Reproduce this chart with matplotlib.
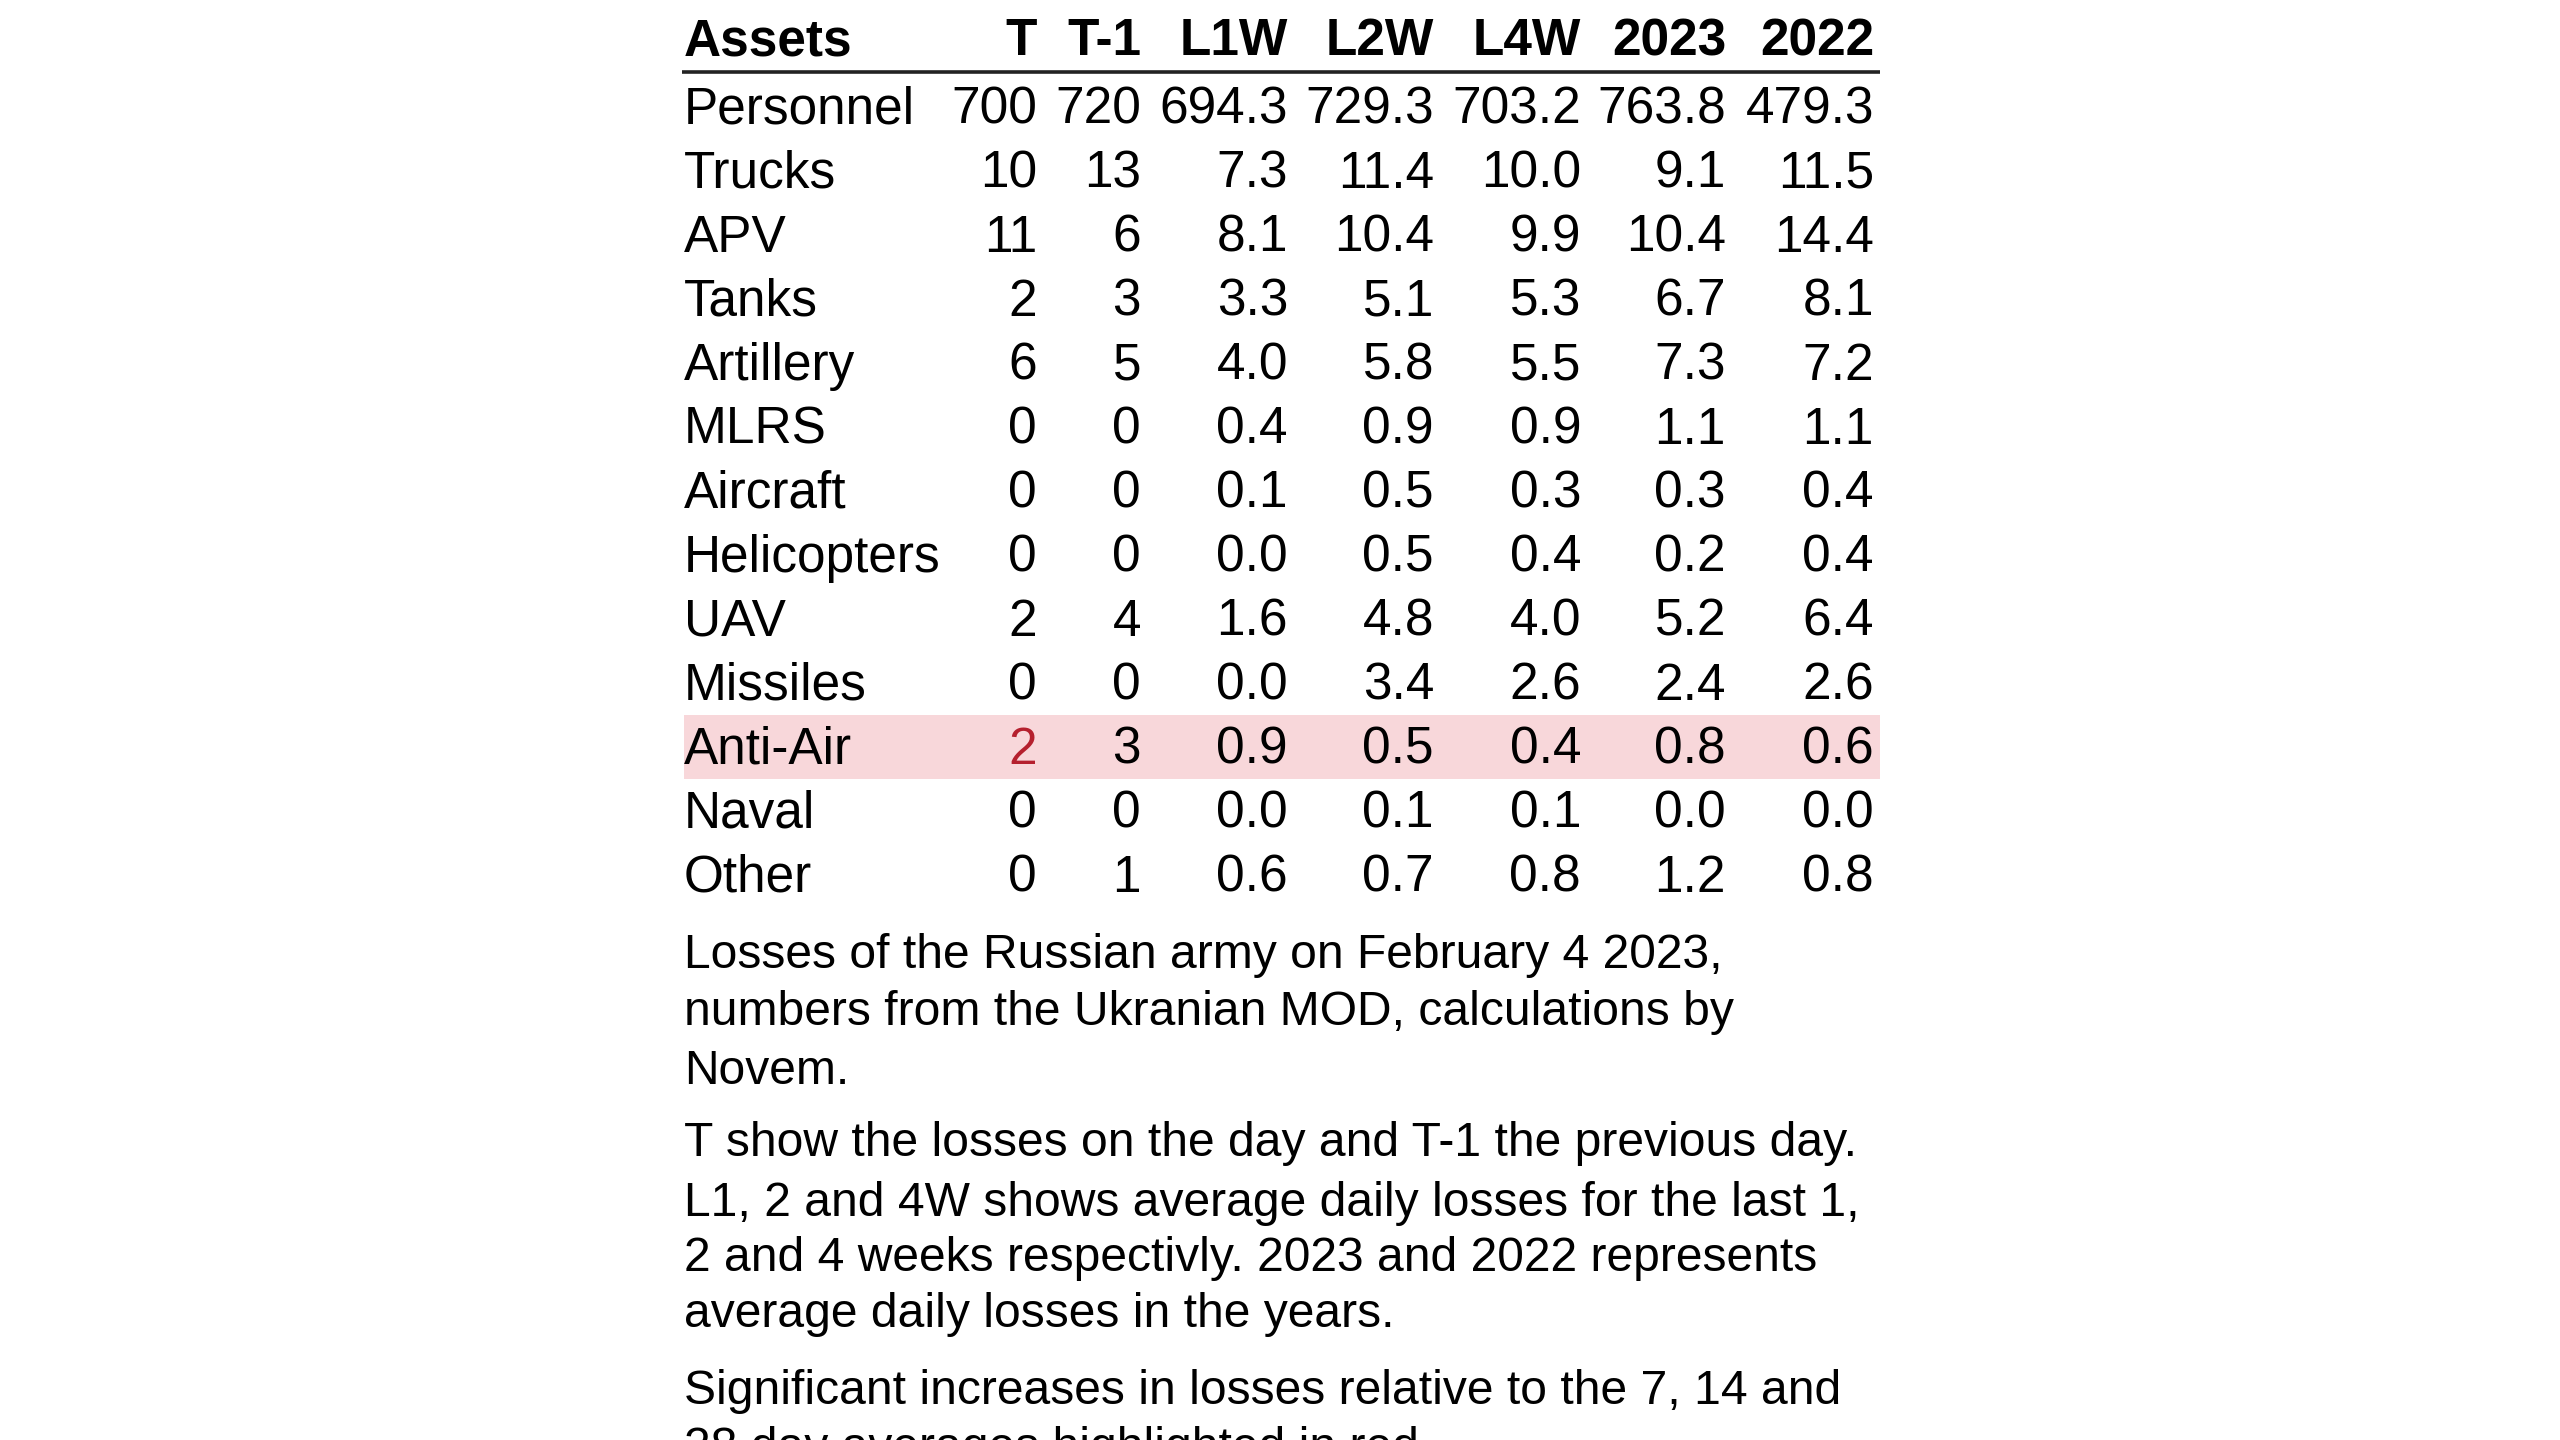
import matplotlib
matplotlib.use("Agg")
import matplotlib.pyplot as plt

# Russian losses table, Feb 4 2023 (Ukrainian MOD numbers)
columns = ["T", "T-1", "L1W", "L2W", "L4W", "2023", "2022"]
assets = ["Personnel", "Trucks", "APV", "Tanks", "Artillery", "MLRS", "Aircraft",
          "Helicopters", "UAV", "Missiles", "Anti-Air", "Naval", "Other"]
t_day = [700, 10, 11, 2, 6, 0, 0, 0, 2, 0, 2, 0, 0]
t_prev = [720, 13, 6, 3, 5, 0, 0, 0, 4, 0, 3, 0, 1]
l1w = [694.3, 7.3, 8.1, 3.3, 4.0, 0.4, 0.1, 0.0, 1.6, 0.0, 0.9, 0.0, 0.6]
l2w = [729.3, 11.4, 10.4, 5.1, 5.8, 0.9, 0.5, 0.5, 4.8, 3.4, 0.5, 0.1, 0.7]
l4w = [703.2, 10.0, 9.9, 5.3, 5.5, 0.9, 0.3, 0.4, 4.0, 2.6, 0.4, 0.1, 0.8]
avg_2023 = [763.8, 9.1, 10.4, 6.7, 7.3, 1.1, 0.3, 0.2, 5.2, 2.4, 0.8, 0.0, 1.2]
avg_2022 = [479.3, 11.5, 14.4, 8.1, 7.2, 1.1, 0.4, 0.4, 6.4, 2.6, 0.6, 0.0, 0.8]

# cells flagged as significant increase
highlight_rows = ["Anti-Air"]
red_cells = [("Anti-Air", "T")]

notes = [
    ["Losses of the Russian army on February 4 2023,",
     "numbers from the Ukranian MOD, calculations by",
     "Novem."],
    ["T show the losses on the day and T-1 the previous day.",
     "L1, 2 and 4W shows average daily losses for the last 1,",
     "2 and 4 weeks respectivly. 2023 and 2022 represents",
     "average daily losses in the years."],
    ["Significant increases in losses relative to the 7, 14 and",
     "28 day averages highlighted in red."],
]

plt.rcParams["font.family"] = ["Liberation Sans", "DejaVu Sans"]

W, H = 2560, 1440
fig = plt.figure(figsize=(25.6, 14.4), dpi=100)
ax = fig.add_axes([0, 0, 1, 1])
ax.set_xlim(0, W)
ax.set_ylim(H, 0)
ax.axis("off")

left, right = 684, 1880
col_right = [1037, 1141, 1288, 1434, 1581, 1726, 1874]
header_base = 55
row_base0 = 124
row_pitch = 63.96
fs = 37

series = [t_day, t_prev, l1w, l2w, l4w, avg_2023, avg_2022]
fmts = ["{:.0f}", "{:.0f}", "{:.1f}", "{:.1f}", "{:.1f}", "{:.1f}", "{:.1f}"]

ax.text(left, header_base, "Assets", fontsize=fs, fontweight="bold", va="baseline", ha="left")
for c, x in zip(columns, col_right):
    ax.text(x, header_base, c, fontsize=fs, fontweight="bold", va="baseline", ha="right")
ax.plot([left - 2, right], [72, 72], color="#222222", lw=2.6, solid_capstyle="butt")

for i, name in enumerate(assets):
    yb = row_base0 + i * row_pitch
    if name in highlight_rows:
        ax.fill_between([left, right], yb - 49, yb + 15, color="#f8d7da", lw=0, zorder=0)
    ax.text(left, yb, name, fontsize=fs, va="baseline", ha="left")
    for j, (vals, fmt) in enumerate(zip(series, fmts)):
        color = "#b5202e" if (name, columns[j]) in red_cells else "black"
        ax.text(col_right[j], yb, fmt.format(vals[i]), fontsize=fs, va="baseline",
                ha="right", color=color)

note_base = [[968, 1025, 1084], [1156, 1216, 1271, 1327], [1404, 1461]]
for para, bases in zip(notes, note_base):
    for line, yb in zip(para, bases):
        ax.text(left, yb, line, fontsize=34.6, va="baseline", ha="left")

fig.savefig("out.png", dpi=100)
